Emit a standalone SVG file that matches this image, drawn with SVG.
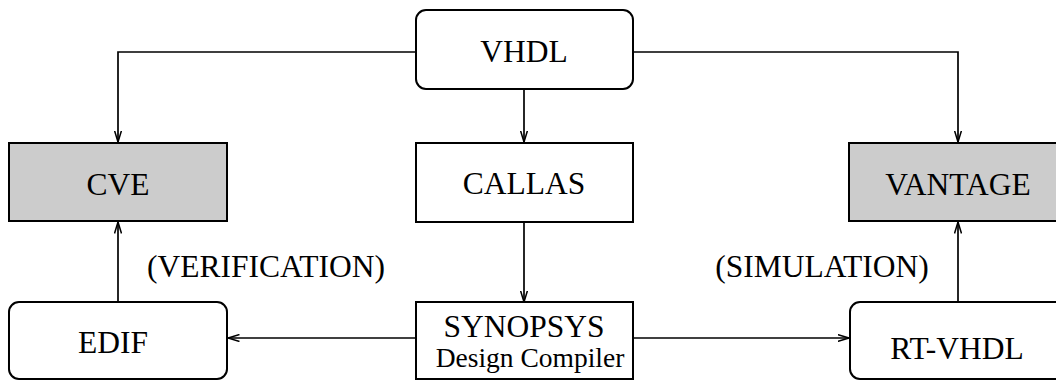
<svg xmlns="http://www.w3.org/2000/svg" width="1056" height="381" viewBox="0 0 1056 381">
<style>
.box{fill:#fff;stroke:#000;stroke-width:2}
.grey{fill:#cccccc;stroke:#000;stroke-width:2}
.t{font-family:"Liberation Serif","Times New Roman",serif;font-size:31.5px;fill:#000;text-anchor:middle}
.s{font-family:"Liberation Serif","Times New Roman",serif;font-size:27.5px;fill:#000;text-anchor:middle}
.c{fill:none;stroke:#000;stroke-width:1.7;marker-end:url(#arr)}
</style>
<defs>
<marker id="arr" viewBox="0 0 12 8" refX="11.5" refY="4" markerWidth="12" markerHeight="8" markerUnits="userSpaceOnUse" orient="auto">
<path d="M0,0.5 L11.5,4 L0,7.5" fill="none" stroke="#000" stroke-width="1.5"/>
</marker>
</defs>
<g id="connectors">
<path class="c" d="M416,52 H118 V142"/>
<path class="c" d="M633,52 H958 V142"/>
<path class="c" d="M524,89 V142"/>
<path class="c" d="M524,222 V302"/>
<path class="c" d="M118,302 V222"/>
<path class="c" d="M958,302 V222"/>
<path class="c" d="M416,338 H228"/>
<path class="c" d="M633,338 H849"/>
<text class="t" x="266" y="277">(VERIFICATION)</text>
<text class="t" x="822" y="277">(SIMULATION)</text>
</g>
<g id="vhdl">
<rect class="box" x="416" y="10" width="217" height="79" rx="10"/>
<text class="t" x="524" y="62">VHDL</text>
</g>
<g id="cve">
<rect class="grey" x="9" y="143" width="218" height="78"/>
<text class="t" x="118" y="195">CVE</text>
</g>
<g id="callas">
<rect class="box" x="416" y="143" width="217" height="79"/>
<text class="t" x="524" y="194">CALLAS</text>
</g>
<g id="vantage">
<rect class="grey" x="849" y="143" width="218" height="78"/>
<text class="t" x="958" y="195">VANTAGE</text>
</g>
<g id="edif">
<rect class="box" x="9" y="302" width="218" height="77" rx="10"/>
<text class="t" x="113" y="353">EDIF</text>
</g>
<g id="synopsys">
<rect class="box" x="416" y="302" width="217" height="77"/>
<text class="t" x="524" y="337">SYNOPSYS</text>
<text class="s" x="530" y="367">Design Compiler</text>
</g>
<g id="rtvhdl">
<rect class="box" x="850" y="302" width="218" height="77" rx="10"/>
<text class="t" x="957" y="359">RT-VHDL</text>
</g>
</svg>
